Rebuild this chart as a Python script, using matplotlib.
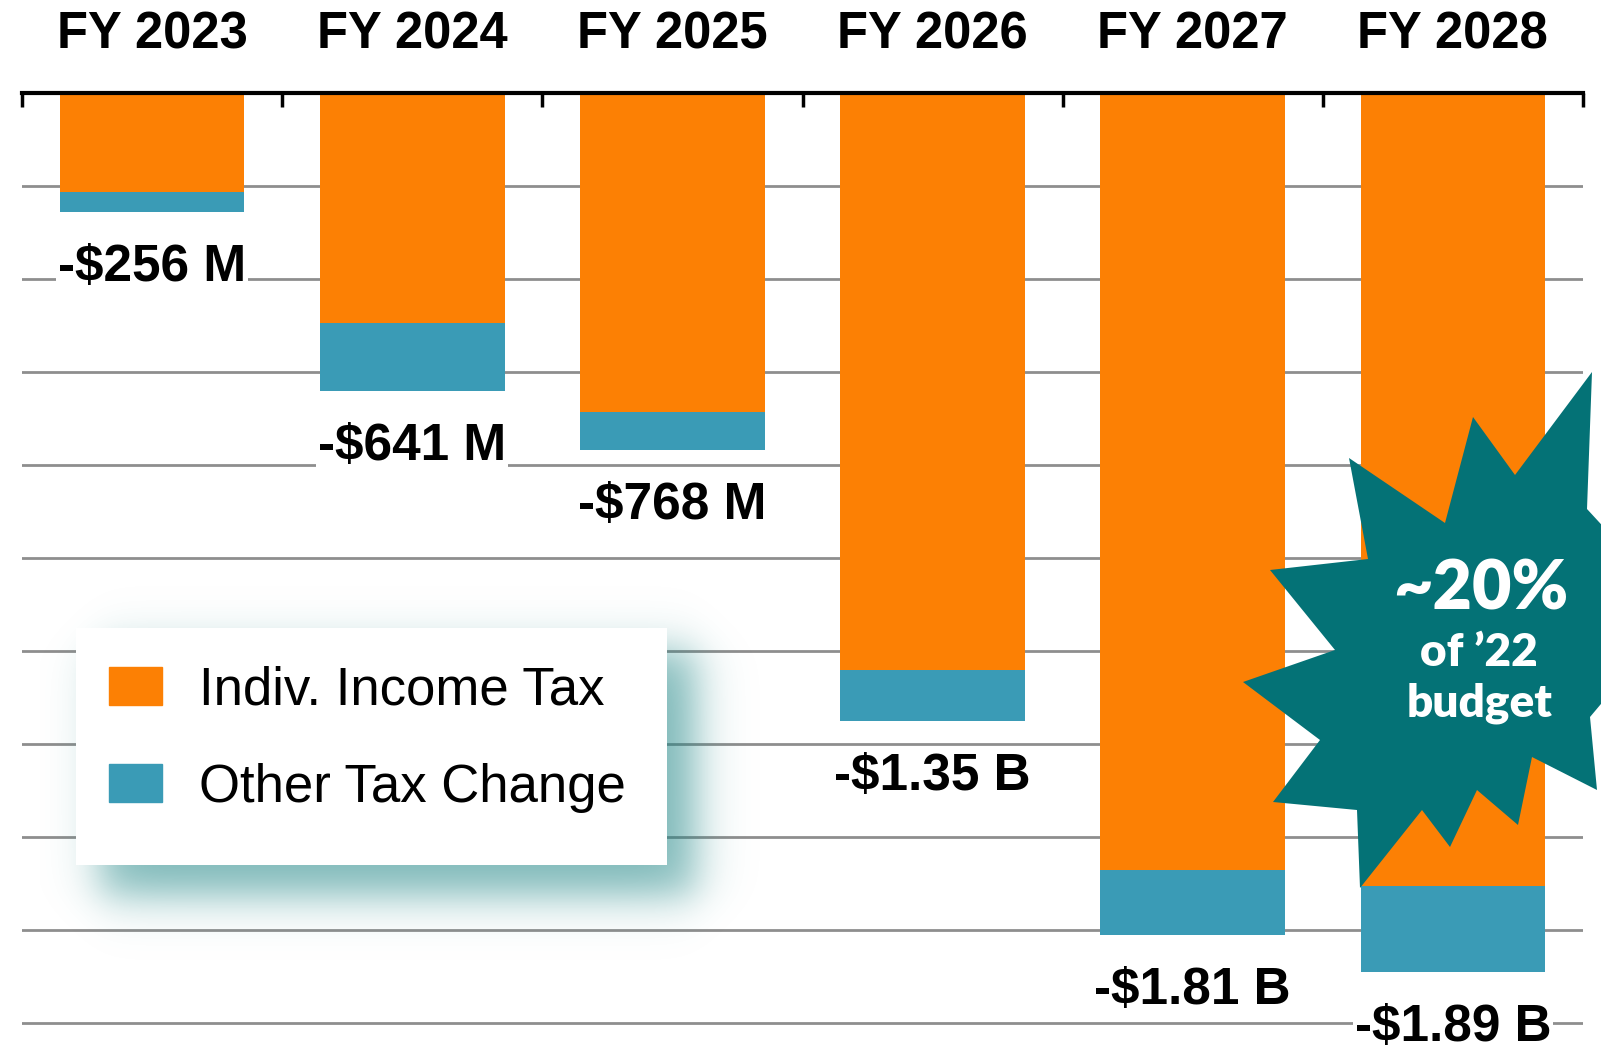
import numpy as np
import matplotlib.pyplot as plt
from matplotlib.patches import Patch, Rectangle, Polygon

plt.rcParams['font.family'] = ['Liberation Sans', 'DejaVu Sans']

# values in $ millions (negative = revenue loss)
years = ['FY 2023', 'FY 2024', 'FY 2025', 'FY 2026', 'FY 2027', 'FY 2028']
indiv_income_tax = [-212, -495, -687, -1241, -1671, -1705]
other_tax_change = [-44, -146, -81, -109, -139, -185]
total_labels = ['-\\$256 M', '-\\$641 M', '-\\$768 M', '-\\$1.35 B', '-\\$1.81 B', '-\\$1.89 B']
series_names = ['Indiv. Income Tax', 'Other Tax Change']

ORANGE = '#fc8004'
BLUE = '#3a9bb6'
TEAL = '#047276'

W, H = 1601, 1050
fig = plt.figure(figsize=(W / 100, H / 100), dpi=100)
ax = fig.add_axes([22 / W, 0, (1583 - 22) / W, (H - 93) / H])

x = np.arange(len(years))
ax.bar(x, indiv_income_tax, width=0.71, color=ORANGE, zorder=2)
ax.bar(x, other_tax_change, width=0.71, bottom=indiv_income_tax, color=BLUE, zorder=2)

ax.set_xlim(-0.5, len(years) - 0.5)
ax.set_ylim(-2058, 0)

# gridlines every $200M
ax.set_yticks(np.arange(-2000, 0, 200))
ax.yaxis.grid(True, color='#8e8e8e', linewidth=2)
ax.set_axisbelow(True)
ax.tick_params(axis='y', length=0, labelleft=False)

# category axis on top
ax.xaxis.tick_top()
ax.set_xticks(np.arange(-0.5, len(years)), labels=[])
ax.set_xticks(x, labels=years, minor=True)
ax.tick_params(axis='x', which='major', direction='in', length=10, width=2.5, color='black')
ax.tick_params(axis='x', which='minor', length=0, pad=24, labelsize=36.5)
for lbl in ax.get_xticklabels(minor=True):
    lbl.set_fontweight('bold')

for s in ['left', 'right', 'bottom']:
    ax.spines[s].set_visible(False)
ax.spines['top'].set_linewidth(3)

# total labels under each bar
totals = np.array(indiv_income_tax) + np.array(other_tax_change)
for xi, tot, lab in zip(x, totals, total_labels):
    ax.annotate(lab, xy=(xi, tot), xytext=(0, -40), textcoords='offset points',
                ha='center', va='center', fontsize=37, fontweight='bold',
                bbox=dict(fc='white', ec='none', pad=1.5), zorder=3)

# legend box with a blurred teal shadow
def px_rect(x0, y0, x1, y1, **kw):
    return Rectangle((x0 / W, 1 - y1 / H), (x1 - x0) / W, (y1 - y0) / H,
                     transform=fig.transFigure, **kw)

def soft(v, lo, hi, s):
    return 1 / (1 + np.exp(-(v - lo) / s)) / (1 + np.exp(-(hi - v) / s))

sx0, sy0, sx1, sy1 = 40, 580, 780, 960
gx = np.arange(sx0, sx1)
gy = np.arange(sy0, sy1)
alpha = np.outer(soft(gy, 650, 895, 13), soft(gx, 100, 695, 13)) * 0.58
shadow = np.zeros((len(gy), len(gx), 4))
shadow[..., 0] = 30 / 255
shadow[..., 1] = 133 / 255
shadow[..., 2] = 133 / 255
shadow[..., 3] = alpha
fig.figimage(shadow, xo=sx0, yo=H - sy1, origin='upper', zorder=4)

bx0, by0, bx1, by1 = 76, 628, 667, 865
fig.patches.append(px_rect(bx0, by0, bx1, by1, fc='white', ec='none', zorder=5))

handles = [Patch(color=ORANGE), Patch(color=BLUE)]
leg = fig.legend(handles, series_names, loc='center left',
                 bbox_to_anchor=(109 / W, 1 - 739 / H), frameon=False,
                 fontsize=38, handlelength=1.0, handleheight=0.72,
                 handletextpad=0.7, labelspacing=0.9, borderpad=0,
                 borderaxespad=0)
leg.set_zorder(6)

# starburst callout
star_px = [(1592, 372), (1587, 509), (1680, 610), (1590, 717), (1597, 790),
           (1532, 757), (1518, 825), (1477, 790), (1450, 847), (1422, 810),
           (1360, 888), (1357, 810), (1273, 802), (1320, 740), (1243, 682),
           (1335, 650), (1270, 570), (1368, 559), (1349, 458), (1445, 523),
           (1473, 417), (1515, 475)]
star = Polygon([(px / W, 1 - py / H) for px, py in star_px], closed=True,
               transform=fig.transFigure, fc=TEAL, ec='none', zorder=7)
fig.patches.append(star)
star_font = ['Lato', 'DejaVu Sans']
fig.text(1481 / W, 1 - 590 / H, '~20%', ha='center', va='center', color='white',
         fontsize=49, fontweight='heavy', family=star_font, zorder=8)
fig.text(1479 / W, 1 - 652 / H, 'of \u201922', ha='center', va='center', color='white',
         fontsize=33, fontweight='heavy', family=star_font, zorder=8)
fig.text(1480 / W, 1 - 703 / H, 'budget', ha='center', va='center', color='white',
         fontsize=33, fontweight='heavy', family=star_font, zorder=8)

fig.savefig('out.png', dpi=100)
